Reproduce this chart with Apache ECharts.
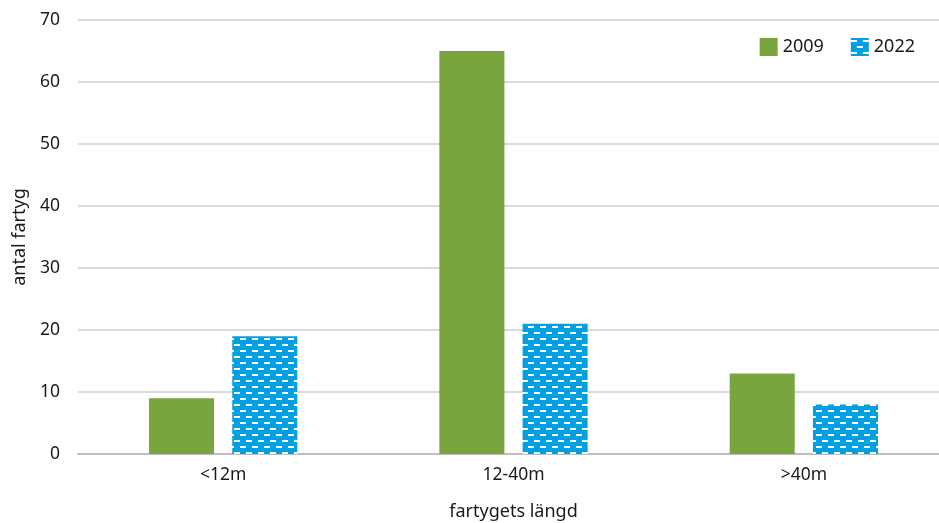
<!DOCTYPE html>
<html>
<head>
<meta charset="utf-8">
<script src="https://cdn.jsdelivr.net/npm/echarts@6/dist/echarts.min.js"></script>
<style>
  html, body { margin: 0; padding: 0; background: #fff; overflow: hidden; }
  #chart { width: 939px; height: 523px; }
</style>
</head>
<body>
<div id="chart"></div>
<script>
const categories = ['<12m', '12-40m', '>40m'];
const values2009 = [9, 65, 13];
const values2022 = [19, 21, 8];
const yTicks = [0, 10, 20, 30, 40, 50, 60, 70];

const FONT = '"Noto Sans", "Open Sans", sans-serif';
const TEXT = '#1a1a1a';

// Brick-like dash pattern for the 2022 bars
function makeDashPattern() {
  const c = document.createElement('canvas');
  c.width = 12;
  c.height = 12;
  const ctx = c.getContext('2d');
  ctx.fillStyle = '#00A0E3';
  ctx.fillRect(0, 0, 12, 12);
  ctx.fillStyle = '#ffffff';
  ctx.fillRect(0, 2, 6, 2);
  ctx.fillRect(6, 8, 6, 2);
  return c;
}

const chart = echarts.init(document.getElementById('chart'), null, { renderer: 'canvas' });

chart.setOption({
  animation: false,
  textStyle: { fontFamily: FONT },
  grid: {
    left: 78, right: -10, top: 20, bottom: 69,
    containLabel: false,
    outerBoundsMode: 'none'
  },
  legend: {
    right: 19,
    top: 33,
    itemWidth: 18,
    itemHeight: 18,
    itemGap: 27,
    icon: 'rect',
    textStyle: { fontSize: 18, color: TEXT, fontFamily: FONT },
    data: ['2009', '2022']
  },
  xAxis: {
    type: 'category',
    data: categories,
    name: 'fartygets längd',
    nameLocation: 'middle',
    nameGap: 49,
    nameTextStyle: { fontSize: 18, color: TEXT, fontFamily: FONT },
    axisLine: { lineStyle: { color: '#BFBFBF', width: 2 } },
    axisTick: { show: false },
    axisLabel: { fontSize: 17.5, color: TEXT, margin: 12, fontFamily: FONT }
  },
  yAxis: {
    type: 'value',
    min: yTicks[0],
    max: yTicks[yTicks.length - 1],
    interval: 10,
    name: 'antal fartyg',
    nameLocation: 'middle',
    nameGap: 47,
    nameTextStyle: { fontSize: 18, color: TEXT, fontFamily: FONT },
    axisLine: { show: false },
    axisTick: { show: false },
    axisLabel: { fontSize: 17.5, color: TEXT, margin: 18, fontFamily: FONT },
    splitLine: { lineStyle: { color: '#D9D9D9', width: 2 } }
  },
  series: [
    {
      name: '2009',
      type: 'bar',
      data: values2009,
      barWidth: '22.4%',
      barGap: '28%',
      itemStyle: { color: '#7AA43E' }
    },
    {
      name: '2022',
      type: 'bar',
      data: values2022,
      barWidth: '22.4%',
      itemStyle: { color: { image: makeDashPattern(), repeat: 'repeat' } }
    }
  ]
});
</script>
</body>
</html>
